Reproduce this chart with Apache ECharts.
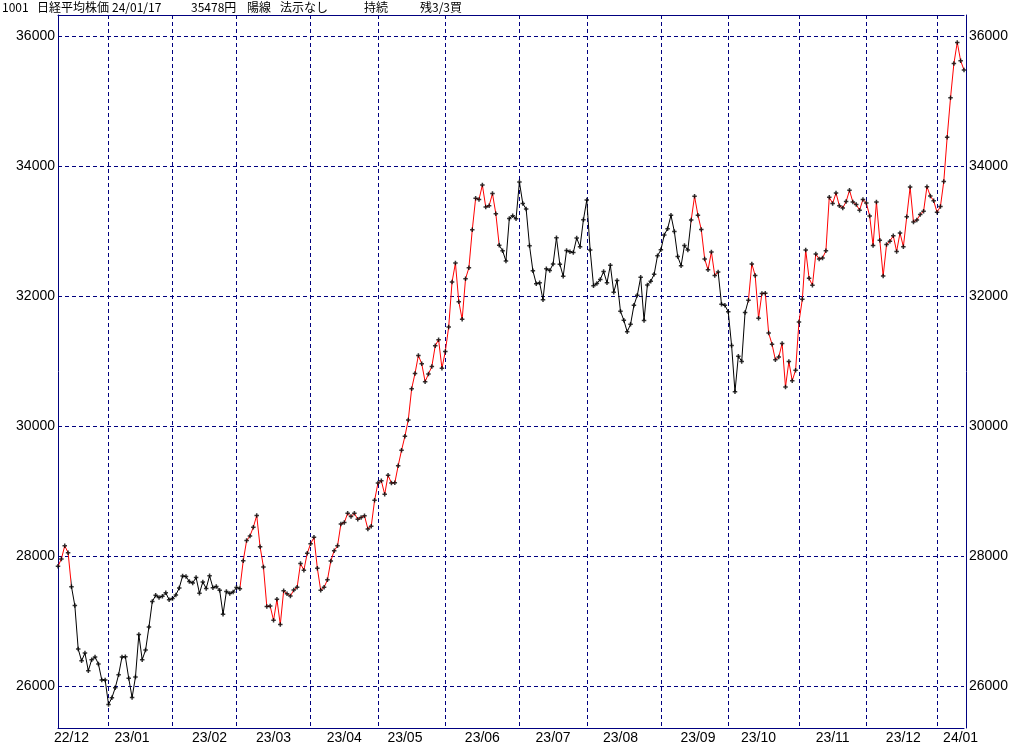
<!DOCTYPE html>
<html><head><meta charset="utf-8">
<script src="https://cdn.jsdelivr.net/npm/echarts@6/dist/echarts.min.js"></script>
<style>html,body{margin:0;padding:0;background:#fff}#c{width:1024px;height:745px}</style>
</head><body><div id="c"></div>
<script>
// ---- data (trading days, closes) ----
const dates = [
'22/12/12','22/12/13','22/12/14','22/12/15','22/12/16','22/12/19','22/12/20','22/12/21','22/12/22','22/12/23','22/12/26','22/12/27','22/12/28','22/12/29','22/12/30',
'23/01/04','23/01/05','23/01/06','23/01/10','23/01/11','23/01/12','23/01/13','23/01/16','23/01/17','23/01/18','23/01/19','23/01/20','23/01/23','23/01/24','23/01/25','23/01/26','23/01/27','23/01/30','23/01/31',
'23/02/01','23/02/02','23/02/03','23/02/06','23/02/07','23/02/08','23/02/09','23/02/10','23/02/13','23/02/14','23/02/15','23/02/16','23/02/17','23/02/20','23/02/21','23/02/22','23/02/24','23/02/27','23/02/28',
'23/03/01','23/03/02','23/03/03','23/03/06','23/03/07','23/03/08','23/03/09','23/03/10','23/03/13','23/03/14','23/03/15','23/03/16','23/03/17','23/03/20','23/03/22','23/03/23','23/03/24','23/03/27','23/03/28','23/03/29','23/03/30','23/03/31',
'23/04/03','23/04/04','23/04/05','23/04/06','23/04/07','23/04/10','23/04/11','23/04/12','23/04/13','23/04/14','23/04/17','23/04/18','23/04/19','23/04/20','23/04/21','23/04/24','23/04/25','23/04/26','23/04/27','23/04/28',
'23/05/01','23/05/02','23/05/08','23/05/09','23/05/10','23/05/11','23/05/12','23/05/15','23/05/16','23/05/17','23/05/18','23/05/19','23/05/22','23/05/23','23/05/24','23/05/25','23/05/26','23/05/29','23/05/30','23/05/31',
'23/06/01','23/06/02','23/06/05','23/06/06','23/06/07','23/06/08','23/06/09','23/06/12','23/06/13','23/06/14','23/06/15','23/06/16','23/06/19','23/06/20','23/06/21','23/06/22','23/06/23','23/06/26','23/06/27','23/06/28','23/06/29','23/06/30',
'23/07/03','23/07/04','23/07/05','23/07/06','23/07/07','23/07/10','23/07/11','23/07/12','23/07/13','23/07/14','23/07/18','23/07/19','23/07/20','23/07/21','23/07/24','23/07/25','23/07/26','23/07/27','23/07/28','23/07/31',
'23/08/01','23/08/02','23/08/03','23/08/04','23/08/07','23/08/08','23/08/09','23/08/10','23/08/14','23/08/15','23/08/16','23/08/17','23/08/18','23/08/21','23/08/22','23/08/23','23/08/24','23/08/25','23/08/28','23/08/29','23/08/30','23/08/31',
'23/09/01','23/09/04','23/09/05','23/09/06','23/09/07','23/09/08','23/09/11','23/09/12','23/09/13','23/09/14','23/09/15','23/09/19','23/09/20','23/09/21','23/09/22','23/09/25','23/09/26','23/09/27','23/09/28','23/09/29',
'23/10/02','23/10/03','23/10/04','23/10/05','23/10/06','23/10/10','23/10/11','23/10/12','23/10/13','23/10/16','23/10/17','23/10/18','23/10/19','23/10/20','23/10/23','23/10/24','23/10/25','23/10/26','23/10/27','23/10/30','23/10/31',
'23/11/01','23/11/02','23/11/06','23/11/07','23/11/08','23/11/09','23/11/10','23/11/13','23/11/14','23/11/15','23/11/16','23/11/17','23/11/20','23/11/21','23/11/22','23/11/24','23/11/27','23/11/28','23/11/29','23/11/30',
'23/12/01','23/12/04','23/12/05','23/12/06','23/12/07','23/12/08','23/12/11','23/12/12','23/12/13','23/12/14','23/12/15','23/12/18','23/12/19','23/12/20','23/12/21','23/12/22','23/12/25','23/12/26','23/12/27','23/12/28','23/12/29',
'24/01/04','24/01/05','24/01/09','24/01/10','24/01/11','24/01/12','24/01/15','24/01/16','24/01/17'
];
const closes = [
27842,27954,28156,28051,27527,27237,26568,26387,26507,26235,26405,26447,26340,26093,26094,
25716,25820,25973,26175,26446,26449,26119,25822,26138,26791,26405,26553,26906,27299,27395,27362,27382,27433,27327,
27346,27402,27509,27693,27685,27606,27584,27670,27427,27602,27501,27696,27513,27531,27473,27104,27453,27423,27445,
27516,27498,27927,28237,28309,28444,28623,28143,27832,27222,27229,27010,27333,26945,27466,27419,27385,27476,27518,27883,27782,28041,
28188,28287,27813,27472,27518,27633,27923,28082,28156,28493,28514,28658,28606,28657,28564,28593,28620,28416,28457,28856,
29123,29157,28949,29242,29122,29126,29388,29626,29842,30093,30573,30808,31086,30957,30682,30801,30916,31233,31328,30887,
31148,31524,32217,32506,31913,31641,32265,32434,33018,33502,33485,33706,33370,33388,33575,33264,32781,32698,32538,33193,33234,33189,
33753,33422,33338,32773,32388,32189,32203,31943,32419,32391,32493,32896,32490,32304,32700,32682,32668,32891,32759,33172,
33476,32707,32159,32192,32254,32377,32204,32473,32059,32238,31766,31626,31450,31565,31856,32010,32287,31624,32169,32227,32333,32619,
32710,32939,33036,33241,32991,32606,32467,32776,32706,33168,33533,33242,33023,32571,32402,32678,32315,32371,31872,31857,
31759,31237,30526,31075,30994,31746,31936,32494,32315,31659,32040,32042,31430,31259,31019,31062,31269,30601,30991,30696,30859,
31601,31950,32708,32272,32166,32646,32568,32585,32695,33519,33424,33585,33388,33354,33452,33625,33447,33408,33321,33486,
33431,33231,32775,33445,32858,32307,32791,32843,32926,32686,32970,32758,33219,33675,33140,33169,33255,33305,33681,33539,33464,
33288,33377,33763,34441,35049,35577,35901,35619,35478
];
const yTicks = [26000, 28000, 30000, 32000, 34000, 36000];
// index ranges (inclusive) where the line is drawn red (signal "on")
const redRanges = [[0, 4], [54, 131], [188, 196], [205, 269]];
const titleParts = ['1001', '日経平均株価', '24/01/17', '35478円', '陽線', '法示なし', '持続', '残3/3買'];

// ---- layout / style ----
const titleX = [2, 37, 112, 191, 247, 280, 364, 420];
const NAVY = '#000080';
const LABEL_FONT = "'Liberation Sans Narrow', 'Liberation Sans', sans-serif";
const Y_MIN = 25354, Y_MAX = 36323;

const monthStarts = new Set();
const labelIdx = new Set();
let curMonth = null, labelled = false;
dates.forEach((d, i) => {
  const m = d.slice(0, 5);
  if (m !== curMonth) { if (i > 0) monthStarts.add(i); curMonth = m; labelled = false; }
  if (!labelled && +d.slice(6) >= 16) { labelIdx.add(i); labelled = true; }
});

const chart = echarts.init(document.getElementById('c'), null, {renderer: 'canvas'});
const yAxisCommon = {
  type: 'value', min: Y_MIN, max: Y_MAX,
  axisLine: {show: true, lineStyle: {color: NAVY, width: 1}},
  axisTick: {show: false},
  splitLine: {show: false},
  axisLabel: {customValues: yTicks, color: '#000', fontFamily: LABEL_FONT, fontSize: 14, margin: 3, formatter: v => String(v)}
};
const plusPath = 'path://M1,0H2V1H3V2H2V3H1V2H0V1H1Z';

chart.setOption({
  animation: false,
  backgroundColor: '#fff',
  grid: {left: 58, right: 60, top: 15, bottom: 17, containLabel: false},
  xAxis: [{
    type: 'category', data: dates, boundaryGap: false,
    axisLine: {show: true, lineStyle: {color: NAVY, width: 1}},
    axisTick: {show: false},
    axisLabel: {interval: (i) => labelIdx.has(i), formatter: v => v.slice(0, 5), color: '#000', fontFamily: LABEL_FONT, fontSize: 14, margin: 3},
    splitLine: {show: true, interval: (i) => monthStarts.has(i), lineStyle: {color: NAVY, type: [4, 3], width: 1}}
  }, {
    type: 'category', data: dates, boundaryGap: false, position: 'top',
    axisLine: {show: true, lineStyle: {color: NAVY, width: 1}},
    axisTick: {show: false}, axisLabel: {show: false}, splitLine: {show: false}
  }],
  yAxis: [Object.assign({position: 'left'}, yAxisCommon),
          Object.assign({position: 'right', offset: 2}, yAxisCommon)],
  visualMap: {
    type: 'piecewise', show: false, dimension: 0, seriesIndex: 0,
    pieces: redRanges.map(r => ({gte: r[0], lte: r[1], color: '#ff0000'})),
    outOfRange: {color: '#000000'}
  },
  series: [{
    type: 'line', data: closes, showSymbol: false, z: 3,
    lineStyle: {width: 1}
  }, {
    type: 'scatter', data: closes, symbol: plusPath, symbolSize: 4.5, z: 4,
    itemStyle: {color: '#000'},
    markLine: {
      silent: true, symbol: ['none', 'none'], z: 1, animation: false,
      label: {show: false},
      lineStyle: {color: NAVY, type: [4, 3], width: 1},
      emphasis: {disabled: true},
      data: yTicks.map(v => ({yAxis: v}))
    }
  }],
  graphic: titleParts.map((t, k) => ({
    type: 'text', left: titleX[k], top: 1,
    style: {text: t, fill: '#000', font: "12px 'Noto Sans CJK JP', sans-serif"}
  }))
});
</script>
</body></html>
